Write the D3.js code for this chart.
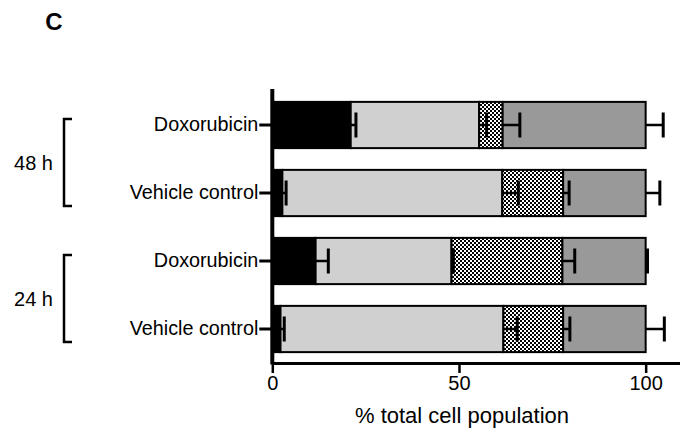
<!DOCTYPE html>
<html><head><meta charset="utf-8">
<script src="https://cdn.jsdelivr.net/npm/d3@7"></script>
<style>body{margin:0;background:#fff}svg{display:block;font-family:"Liberation Sans",Arial,sans-serif}</style>
</head><body><svg id="c" width="680" height="433"></svg>
<script>
const categories = ["Doxorubicin 48h", "Vehicle control 48h", "Doxorubicin 24h", "Vehicle control 24h"];
const categoryLabels = ["Doxorubicin", "Vehicle control", "Doxorubicin", "Vehicle control"];
const seriesNames = ["s1", "s2", "s3", "s4"];
// segment widths (% of total cell population)
const s1 = [21.0, 2.7, 11.6, 2.2];
const s2 = [34.4, 58.9, 36.4, 59.7];
const s3 = [6.3, 16.3, 29.7, 16.0];
const s4 = [38.3, 22.1, 22.3, 22.1];
// error (SD) for each segment
const e1 = [1.4, 1.0, 3.4, 1.0];
const e2 = [2.0, 4.3, 0.5, 3.7];
const e3 = [4.6, 1.6, 3.3, 1.8];
const e4 = [4.7, 3.8, 0.5, 5.0];
const xTicks = [0, 50, 100];
const groups = [{label: "48 h", cats: [0, 1]}, {label: "24 h", cats: [2, 3]}];

const FONT = "Liberation Sans, Arial, sans-serif";
const svg = d3.select("#c");
const defs = svg.append("defs");
const pat = defs.append("pattern").attr("id", "chk").attr("patternUnits", "userSpaceOnUse")
  .attr("width", 4).attr("height", 4);
pat.append("rect").attr("width", 4).attr("height", 4).attr("fill", "#fff");
pat.append("rect").attr("width", 2).attr("height", 2).attr("fill", "#000");
pat.append("rect").attr("x", 2).attr("y", 2).attr("width", 2).attr("height", 2).attr("fill", "#000");

const fills = ["#000", "#d0d0d0", "url(#chk)", "#999"];
const vals = [s1, s2, s3, s4];
const errs = [e1, e2, e3, e4];

const x = d3.scaleLinear().domain([0, 110]).range([272.3, 683]);
const y = d3.scaleBand().domain(categories).range([91, 363]).paddingInner(0.32).paddingOuter(0.16);

const table = categories.map((c, i) => { const o = {cat: c}; seriesNames.forEach((s, k) => o[s] = vals[k][i]); return o; });
const stacked = d3.stack().keys(seriesNames)(table);

const g = svg.append("g");
stacked.forEach((layer, k) => {
  g.append("g").selectAll("rect").data(layer).join("rect")
    .attr("x", d => x(d[0])).attr("y", d => y(d.data.cat))
    .attr("width", d => x(d[1]) - x(d[0])).attr("height", y.bandwidth())
    .attr("fill", fills[k]).attr("stroke", "#000").attr("stroke-width", 2);
});
// error bars
stacked.forEach((layer, k) => {
  layer.forEach((d, i) => {
    const cy = y(d.data.cat) + y.bandwidth() / 2;
    const xe = x(d[1] + errs[k][i]);
    g.append("line").attr("x1", x(d[1])).attr("x2", xe).attr("y1", cy).attr("y2", cy)
      .attr("stroke", "#000").attr("stroke-width", 2.5);
    g.append("line").attr("x1", xe).attr("x2", xe).attr("y1", cy - 12.5).attr("y2", cy + 12.5)
      .attr("stroke", "#000").attr("stroke-width", 3);
  });
});

// x axis
const xa = svg.append("g").attr("transform", "translate(0,363)")
  .call(d3.axisBottom(x).tickValues(xTicks).tickSize(10).tickPadding(3).tickSizeOuter(0));
xa.select(".domain").attr("stroke-width", 3);
xa.selectAll(".tick line").attr("stroke-width", 2.5);
xa.selectAll("text").attr("font-size", 20).attr("fill", "#000").attr("font-family", FONT);

// y axis
const ya = svg.append("g").attr("transform", "translate(272.3,0)")
  .call(d3.axisLeft(y).tickSize(13).tickPadding(1).tickSizeOuter(0).tickFormat((d, i) => categoryLabels[i]));
ya.select(".domain").attr("stroke-width", 4).attr("d", "M0,89V364.5");
ya.selectAll(".tick line").attr("stroke-width", 3);
ya.selectAll("text").attr("font-size", 19.8).attr("fill", "#000").attr("font-family", FONT);

// group brackets
groups.forEach(gr => {
  const top = y(categories[gr.cats[0]]) + y.bandwidth() / 2 - 6;
  const bot = y(categories[gr.cats[1]]) + y.bandwidth() / 2 + 13;
  svg.append("path").attr("d", `M72,${top}H64V${bot}H72`).attr("fill", "none")
    .attr("stroke", "#000").attr("stroke-width", 2.5);
  svg.append("text").attr("x", 53).attr("y", (top + bot) / 2).attr("dy", "0.35em")
    .attr("text-anchor", "end").attr("font-size", 20).attr("font-family", FONT).text(gr.label);
});

svg.append("text").attr("x", 462).attr("y", 423).attr("text-anchor", "middle")
  .attr("font-size", 22).attr("font-family", FONT).text("% total cell population");
svg.append("text").attr("x", 54).attr("y", 30).attr("text-anchor", "middle")
  .attr("font-size", 24).attr("font-weight", "bold").attr("font-family", FONT).text("C");
</script></body></html>
